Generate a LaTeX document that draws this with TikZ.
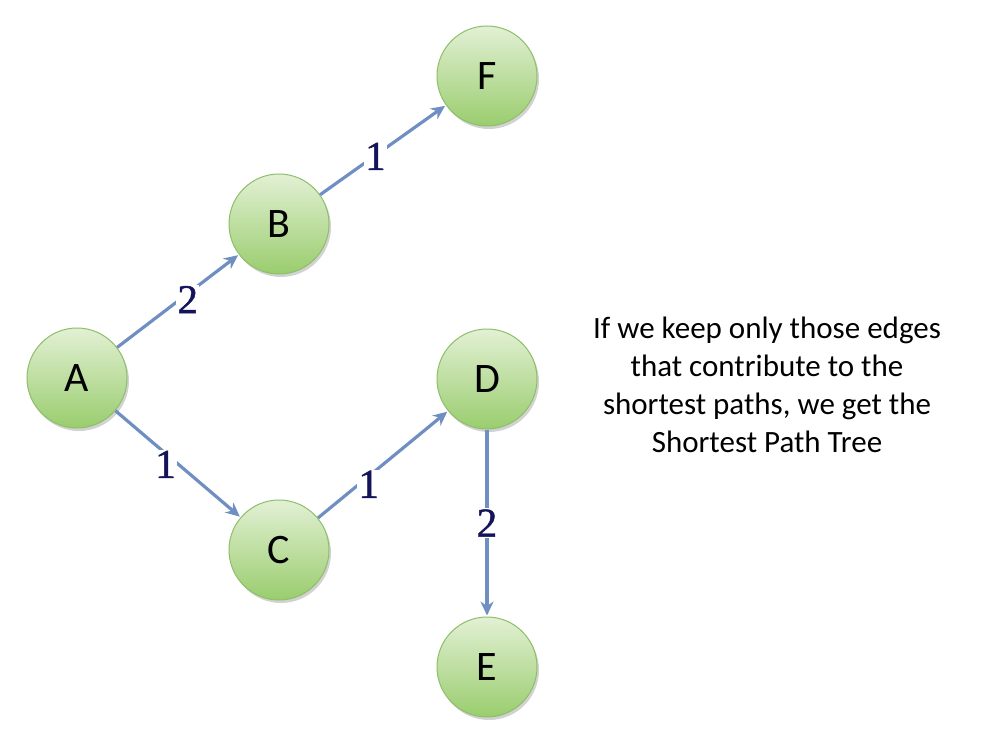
\documentclass[tikz,border=0pt]{standalone}
\usepackage{fontspec}
\setmainfont{Carlito}
\newfontfamily\nodefont{Carlito}
\newfontfamily\numfont[FakeBold=1.2]{Liberation Serif}
\usetikzlibrary{arrows.meta,shadows}
\definecolor{edgeblue}{HTML}{6F8FC2}
\definecolor{nodetop}{HTML}{E2F0D4}
\definecolor{nodebot}{HTML}{9ACD6E}
\definecolor{nodeline}{HTML}{8DBF68}
\definecolor{labnavy}{HTML}{14145A}
\tikzset{
  vtx/.style={circle, minimum size=100pt, inner sep=0pt, draw=nodeline, line width=1pt,
    top color=nodetop, bottom color=nodebot,
    drop shadow={shadow xshift=2pt, shadow yshift=-3pt, fill=black!35, opacity=0.5},
    font=\nodefont\fontsize{42}{42}\selectfont},
  edg/.style={draw=edgeblue, line width=3.2pt, -{Stealth[length=14pt,width=13pt]}, shorten >=1pt},
  wlab/.style={fill=white, inner sep=1pt, text=labnavy, font=\numfont\fontsize{41}{41}\selectfont}
}
\begin{document}
\begin{tikzpicture}[x=1pt,y=-1pt]
\useasboundingbox (0,0) rectangle (982,738);
\node[vtx] (A) at (77,378) {A};
\node[vtx] (B) at (279,224) {B};
\node[vtx] (F) at (487,76) {F};
\node[vtx] (D) at (487,379) {D};
\node[vtx] (C) at (279,550) {C};
\node[vtx] (E) at (487,667) {E};
\draw[edg] (A) -- (B) node[wlab, pos=0.58, yshift=-6pt] {2};
\draw[edg] (B) -- (F) node[wlab, pos=0.44, yshift=-1pt] {1};
\draw[edg] (A) -- (C) node[wlab, pos=0.40, yshift=-11pt] {1};
\draw[edg] (C) -- (D) node[wlab, pos=0.39, yshift=-8pt] {1};
\draw[edg] (D) -- (E) node[wlab, pos=0.5] {2};
\node[align=center, font=\fontsize{31}{38}\selectfont] (T) at (767,385)
  {If we keep only those edges\\that contribute to the\\shortest paths, we get the\\Shortest Path Tree};
\end{tikzpicture}
\end{document}
